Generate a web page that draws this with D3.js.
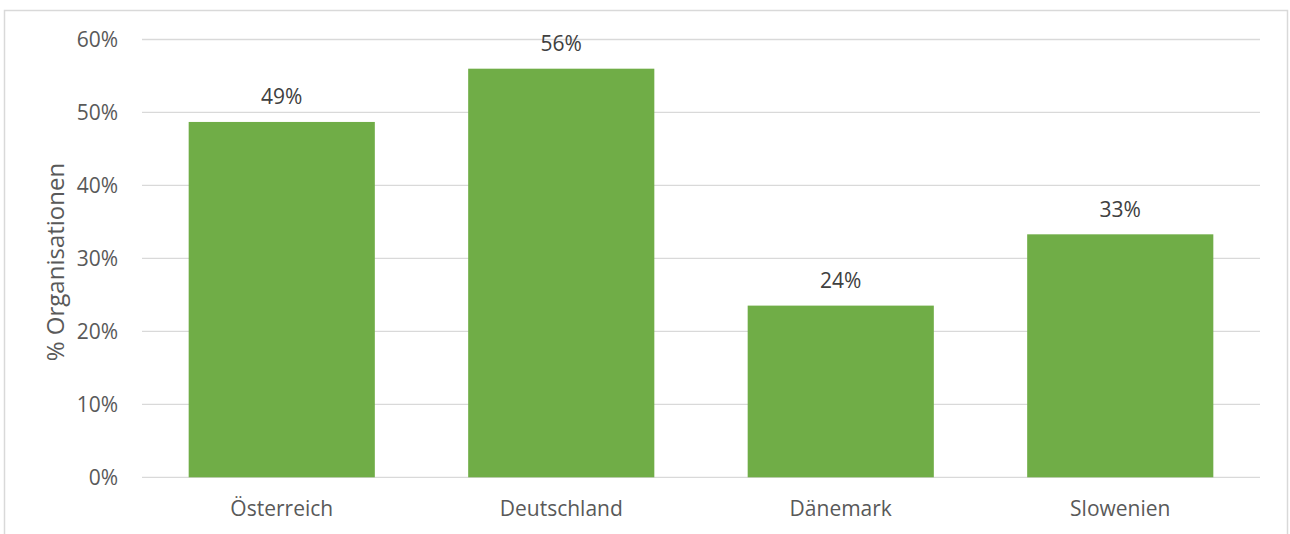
<!DOCTYPE html>
<html>
<head>
<meta charset="utf-8">
<script src="https://cdn.jsdelivr.net/npm/d3@7"></script>
<style>
  html, body { margin: 0; padding: 0; background: #fff; }
  svg { display: block; font-family: "Open Sans", "Noto Sans", sans-serif; }
</style>
</head>
<body>
<svg id="chart" width="1290" height="534"></svg>
<script>
// Share of organisations per country
const countries = ["Österreich", "Deutschland", "Dänemark", "Slowenien"];
const shares = [0.487, 0.560, 0.2353, 0.333];
const yTicks = [0, 0.1, 0.2, 0.3, 0.4, 0.5, 0.6];
const yTitle = "% Organisationen";

const svg = d3.select("#chart");
const W = 1290, H = 534;
const margin = { top: 39.5, right: 30, bottom: 56.7, left: 142 };
const plotW = W - margin.left - margin.right;
const plotH = H - margin.top - margin.bottom;

// outer chart frame
svg.append("rect")
  .attr("x", 4.5).attr("y", 10.5)
  .attr("width", 1283).attr("height", 540)
  .attr("fill", "#fff").attr("stroke", "#d9d9d9").attr("stroke-width", 1.5);

const g = svg.append("g").attr("transform", `translate(${margin.left},${margin.top})`);

const x = d3.scaleBand().domain(countries).range([0, plotW]).paddingInner(0.334).paddingOuter(0.167);
const y = d3.scaleLinear().domain([0, 0.6]).range([plotH, 0]);
const pct = d3.format(".0%");

// horizontal gridlines
g.append("g")
  .selectAll("line")
  .data(yTicks)
  .join("line")
  .attr("x1", 0).attr("x2", plotW)
  .attr("y1", d => y(d)).attr("y2", d => y(d))
  .attr("stroke", "#d9d9d9").attr("stroke-width", 1.3);

// y axis labels
const yAxis = d3.axisLeft(y).tickValues(yTicks).tickFormat(pct).tickSize(0).tickPadding(24);
const ya = g.append("g").call(yAxis);
ya.select(".domain").remove();
ya.selectAll("text")
  .attr("fill", "#595959")
  .style("font-size", "21px")
  .style("font-family", "'Open Sans', sans-serif");

// bars
g.append("g")
  .selectAll("rect")
  .data(countries)
  .join("rect")
  .attr("x", d => x(d))
  .attr("width", x.bandwidth())
  .attr("y", (d, i) => y(shares[i]))
  .attr("height", (d, i) => plotH - y(shares[i]))
  .attr("fill", "#70ad47");

// value labels
g.append("g")
  .selectAll("text")
  .data(countries)
  .join("text")
  .attr("x", d => x(d) + x.bandwidth() / 2)
  .attr("y", (d, i) => y(shares[i]) - 17.5)
  .attr("text-anchor", "middle")
  .attr("fill", "#404040")
  .style("font-size", "21px")
  .text((d, i) => pct(shares[i]));

// x axis labels
const xAxis = d3.axisBottom(x).tickSize(0).tickPadding(24);
const xa = g.append("g").attr("transform", `translate(0,${plotH})`).call(xAxis);
xa.select(".domain").remove();
xa.selectAll("text")
  .attr("fill", "#595959")
  .style("font-size", "21px")
  .style("font-family", "'Open Sans', sans-serif");

// y axis title
svg.append("text")
  .attr("transform", `translate(64,262) rotate(-90)`)
  .attr("text-anchor", "middle")
  .attr("fill", "#595959")
  .style("font-size", "24px")
  .text(yTitle);
</script>
</body>
</html>
